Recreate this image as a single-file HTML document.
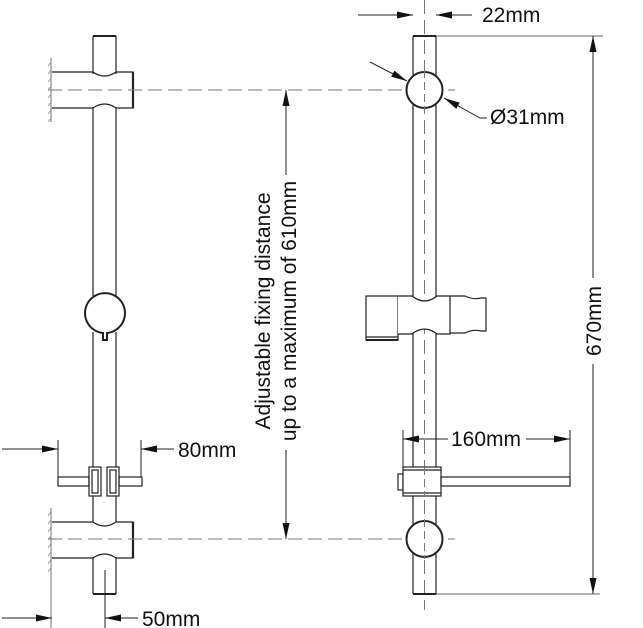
<!DOCTYPE html>
<html><head><meta charset="utf-8"><style>
html,body{margin:0;padding:0;background:#fff;}
svg{display:block;}
text{font-family:"Liberation Sans",Arial,sans-serif;fill:#111;}
</style></head><body>
<svg width="643" height="628" viewBox="0 0 643 628" xmlns="http://www.w3.org/2000/svg">
<defs>
<marker id="a" viewBox="0 0 16 7" refX="16" refY="3.5" markerWidth="16" markerHeight="7" markerUnits="userSpaceOnUse" orient="auto"><path d="M0,0 L16,3.5 L0,7 Z" fill="#111"/></marker>
</defs>
<g fill="none" stroke="#222" stroke-width="1.2">
<!-- wall hatch -->
<line x1="51" y1="58" x2="51" y2="122" stroke="#888"/>
<line x1="51" y1="508" x2="51" y2="628" stroke="#888"/>
<path d="M51,62 l-3,4 M51,70 l-3,4 M51,78 l-3,4 M51,86 l-3,4 M51,94 l-3,4 M51,102 l-3,4 M51,110 l-3,4 M51,118 l-3,4 M51,512 l-3,4 M51,520 l-3,4 M51,528 l-3,4 M51,536 l-3,4 M51,544 l-3,4 M51,552 l-3,4 M51,560 l-3,4 M51,568 l-3,4" stroke="#999" stroke-width="1"/>
<!-- rod top stub -->
<line x1="93" y1="36" x2="116" y2="36" stroke-width="2"/>
<line x1="93" y1="36" x2="93" y2="74"/><line x1="116" y1="36" x2="116" y2="74"/>
<!-- top bracket -->
<path d="M52,72 L93,72 Q104.5,80 116,72 L133,72 L133,108 L116,108 Q104.5,100 93,108 L52,108"/>
<line x1="133" y1="72" x2="133" y2="108" stroke-width="2.2"/>
<!-- rod -->
<line x1="93" y1="107" x2="93" y2="296"/><line x1="116" y1="107" x2="116" y2="296"/>
<line x1="93" y1="332" x2="93" y2="522"/><line x1="116" y1="332" x2="116" y2="522"/>
<!-- middle circle -->
<path d="M103,333 A20,20 0 1 1 107,333 L107,340 L103,340 Z" stroke-width="2" fill="#fff"/>
<!-- soap clips left -->
<rect x="89" y="467" width="12" height="29" fill="#fff"/>
<rect x="92" y="470" width="6" height="23"/>
<rect x="107" y="467" width="12" height="29" fill="#fff"/>
<rect x="110" y="470" width="6" height="23"/>
<rect x="58" y="477" width="31" height="9"/>
<rect x="119" y="477" width="23" height="9"/>
<!-- bottom bracket -->
<path d="M52,522 L93,522 Q104.5,530 116,522 L133,522 L133,558 L116,558 Q104.5,550 93,558 L52,558"/>
<line x1="133" y1="522" x2="133" y2="558" stroke-width="2.2"/>
<line x1="93" y1="557" x2="93" y2="594"/><line x1="116" y1="557" x2="116" y2="594"/>
<line x1="93" y1="594" x2="116" y2="594" stroke-width="2"/>

<!-- dims left -->
<line x1="58" y1="440" x2="58" y2="477" stroke-width="1"/>
<line x1="141" y1="440" x2="141" y2="477" stroke-width="1"/>
<line x1="2" y1="449" x2="58" y2="449" marker-end="url(#a)" stroke-width="1"/>
<line x1="174" y1="449" x2="141" y2="449" marker-end="url(#a)" stroke-width="1"/>
<line x1="105" y1="570" x2="105" y2="628" stroke-width="1"/>
<line x1="2" y1="618" x2="52" y2="618" marker-end="url(#a)" stroke-width="1"/>
<line x1="138" y1="618" x2="105" y2="618" marker-end="url(#a)" stroke-width="1"/>

<!-- dashed center lines -->
<line x1="48" y1="90" x2="455" y2="90" stroke="#777" stroke-width="1" stroke-dasharray="14,6"/>
<line x1="48" y1="539" x2="455" y2="539" stroke="#777" stroke-width="1" stroke-dasharray="14,6"/>
<line x1="286" y1="175" x2="286" y2="90" marker-end="url(#a)" stroke-width="1"/>
<line x1="286" y1="450" x2="286" y2="539" marker-end="url(#a)" stroke-width="1"/>

<!-- RIGHT VIEW -->
<line x1="424.5" y1="0" x2="424.5" y2="610" stroke="#777" stroke-width="1" stroke-dasharray="14,6"/>
<line x1="413" y1="36" x2="436" y2="36" stroke-width="2"/>
<line x1="413" y1="36" x2="413" y2="594"/><line x1="436" y1="36" x2="436" y2="594"/>
<line x1="413" y1="594" x2="436" y2="594" stroke-width="2"/>
<circle cx="424.5" cy="90" r="18" fill="#fff" stroke-width="2"/>
<circle cx="424.5" cy="539" r="18" fill="#fff" stroke-width="2"/>
<line x1="424.5" y1="70" x2="424.5" y2="110" stroke="#777" stroke-width="1" stroke-dasharray="8,4"/>
<line x1="424.5" y1="519" x2="424.5" y2="559" stroke="#777" stroke-width="1" stroke-dasharray="8,4"/>
<!-- holder -->
<rect x="366" y="296" width="32" height="44" fill="#fff"/>
<line x1="366" y1="337" x2="398" y2="337"/>
<line x1="366" y1="340" x2="398" y2="340" stroke-width="2"/>
<path d="M398,296 L412,296 Q424.5,306 437,296 L450,296 L450,334 L437,334 Q424.5,324 412,334 L398,334" fill="#fff"/>
<path d="M450,296 L465,296 Q473,300 481,298 L486,298 L486,331 L481,331 Q473,329 465,333 L450,333"/>
<!-- soap dish -->
<rect x="398" y="474" width="5" height="16"/>
<rect x="403" y="467" width="38" height="29" fill="#fff"/>
<line x1="403" y1="470" x2="441" y2="470"/><line x1="403" y1="493" x2="441" y2="493"/>
<rect x="441" y="477" width="129" height="9"/>
<line x1="424.5" y1="467" x2="424.5" y2="496" stroke="#777" stroke-width="1" stroke-dasharray="8,4"/>
<!-- 160 dim -->
<line x1="403" y1="430" x2="403" y2="467" stroke-width="1"/>
<line x1="570" y1="430" x2="570" y2="477" stroke-width="1"/>
<line x1="448" y1="439" x2="403" y2="439" marker-end="url(#a)" stroke-width="1"/>
<line x1="526" y1="439" x2="570" y2="439" marker-end="url(#a)" stroke-width="1"/>
<!-- 22mm -->
<line x1="358" y1="15" x2="413" y2="15" marker-end="url(#a)" stroke-width="1"/>
<line x1="472" y1="15" x2="436" y2="15" marker-end="url(#a)" stroke-width="1"/>
<!-- 670 dim -->
<line x1="436" y1="36" x2="603" y2="36" stroke="#666" stroke-width="1"/>
<line x1="436" y1="594" x2="600" y2="594" stroke="#666" stroke-width="1"/>
<line x1="593" y1="278" x2="593" y2="36" marker-end="url(#a)" stroke-width="1"/>
<line x1="593" y1="364" x2="593" y2="594" marker-end="url(#a)" stroke-width="1"/>
<!-- Ø31 -->
<line x1="370" y1="62" x2="407" y2="81" marker-end="url(#a)" stroke-width="1"/>
<path d="M487,118 L480,118 L444,98" marker-end="url(#a)" stroke-width="1"/>
</g>
<text x="178" y="457" font-size="21">80mm</text>
<text x="142" y="626" font-size="21">50mm</text>
<text x="482" y="22" font-size="21">22mm</text>
<text x="490" y="124" font-size="21">Ø31mm</text>
<text x="451" y="446" font-size="21">160mm</text>
<text transform="translate(601,321) rotate(-90)" text-anchor="middle" font-size="21">670mm</text>
<text transform="translate(270,311) rotate(-90)" text-anchor="middle" font-size="21">Adjustable fixing distance</text>
<text transform="translate(296,311) rotate(-90)" text-anchor="middle" font-size="21">up to a maximum of 610mm</text>
</svg>
</body></html>
